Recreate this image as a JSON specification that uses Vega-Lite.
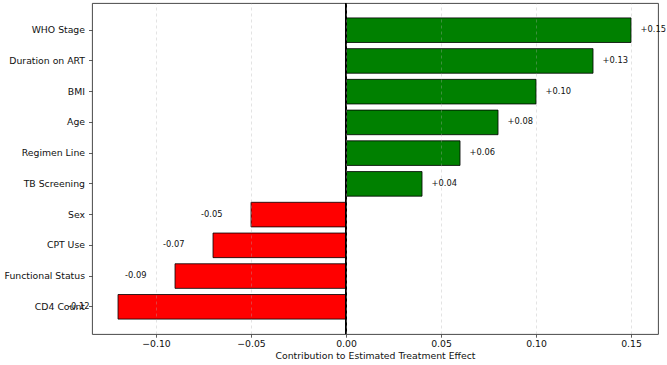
{
  "$schema": "https://vega.github.io/schema/vega-lite/v6.json",
  "width": 566,
  "height": 331,
  "autosize": {"type": "none"},
  "padding": {"left": 92, "top": 3, "right": 9, "bottom": 31},
  "config": {
    "font": "DejaVu Sans",
    "view": {"stroke": "#333333", "strokeWidth": 0.9}
  },
  "data": {
    "values": [
      {"feature": "WHO Stage", "value": 0.15},
      {"feature": "Duration on ART", "value": 0.13},
      {"feature": "BMI", "value": 0.10},
      {"feature": "Age", "value": 0.08},
      {"feature": "Regimen Line", "value": 0.06},
      {"feature": "TB Screening", "value": 0.04},
      {"feature": "Sex", "value": -0.05},
      {"feature": "CPT Use", "value": -0.07},
      {"feature": "Functional Status", "value": -0.09},
      {"feature": "CD4 Count", "value": -0.12}
    ]
  },
  "transform": [
    {"calculate": "(datum.value > 0 ? '+' : '-') + format(abs(datum.value), '.2f')", "as": "label"}
  ],
  "layer": [
    {
      "mark": {"type": "bar", "stroke": "black", "strokeWidth": 0.8},
      "encoding": {
        "y": {
          "field": "feature", "type": "nominal",
          "sort": ["WHO Stage", "Duration on ART", "BMI", "Age", "Regimen Line", "TB Screening", "Sex", "CPT Use", "Functional Status", "CD4 Count"],
          "scale": {"paddingInner": 0.2, "paddingOuter": 0.485},
          "axis": {
            "title": null, "domain": false, "grid": false,
            "tickSize": 3.5, "tickColor": "#333333", "tickWidth": 0.8,
            "labelPadding": 4, "labelFontSize": 9.3, "labelColor": "#111111"
          }
        },
        "x": {
          "field": "value", "type": "quantitative",
          "scale": {"domain": [-0.1337, 0.1642], "nice": false, "zero": false},
          "axis": {
            "values": [-0.1, -0.05, 0, 0.05, 0.1, 0.15],
            "format": ".2f",
            "title": "Contribution to Estimated Treatment Effect",
            "titleFontSize": 9.3, "titleFontWeight": "normal", "titleColor": "#111111", "titlePadding": 3,
            "labelFontSize": 9.3, "labelColor": "#111111", "labelPadding": 2.3,
            "tickSize": 3.2, "tickColor": "#333333", "tickWidth": 0.8,
            "domain": false,
            "grid": true, "gridDash": [3, 3], "gridColor": "#b0b0b0", "gridOpacity": 0.5, "gridWidth": 0.7,
            "zindex": 1
          }
        },
        "color": {"condition": {"test": "datum.value > 0", "value": "#008000"}, "value": "#ff0000"}
      }
    },
    {
      "mark": {"type": "rule", "color": "black", "strokeWidth": 1},
      "encoding": {"x": {"datum": 0}}
    },
    {
      "transform": [{"filter": "datum.value > 0"}],
      "mark": {"type": "text", "align": "left", "baseline": "middle", "dx": 9.5, "fontSize": 8.3, "color": "#111111"},
      "encoding": {
        "y": {"field": "feature", "type": "nominal", "sort": ["WHO Stage", "Duration on ART", "BMI", "Age", "Regimen Line", "TB Screening", "Sex", "CPT Use", "Functional Status", "CD4 Count"]},
        "x": {"field": "value", "type": "quantitative"},
        "text": {"field": "label"}
      }
    },
    {
      "transform": [{"filter": "datum.value < 0"}],
      "mark": {"type": "text", "align": "right", "baseline": "middle", "dx": -28.5, "fontSize": 8.3, "color": "#111111"},
      "encoding": {
        "y": {"field": "feature", "type": "nominal", "sort": ["WHO Stage", "Duration on ART", "BMI", "Age", "Regimen Line", "TB Screening", "Sex", "CPT Use", "Functional Status", "CD4 Count"]},
        "x": {"field": "value", "type": "quantitative"},
        "text": {"field": "label"}
      }
    }
  ]
}
